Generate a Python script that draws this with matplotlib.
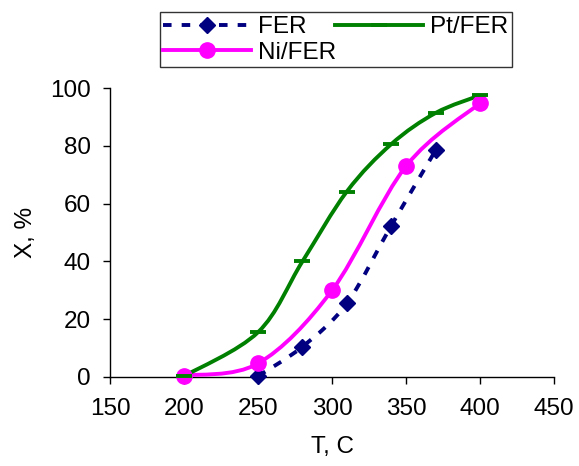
"""Conversion X vs temperature for FER, Ni/FER and Pt/FER catalysts."""

import matplotlib

matplotlib.use("Agg")
import matplotlib.pyplot as plt
from matplotlib.lines import Line2D
from matplotlib.patches import PathPatch
from matplotlib.path import Path
import numpy as np

plt.rcParams["font.family"] = ["Liberation Sans", "DejaVu Sans"]

fer_t = [250, 280, 310, 340, 370]
fer_x = [0.3, 10.5, 25.5, 52.4, 78.5]

pt_t = [200, 250, 280, 310, 340, 370, 400]
pt_x = [0.3, 15.5, 40.0, 64.2, 80.6, 91.4, 97.5]

ni_t = [200, 250, 300, 350, 400]
ni_x = [0.5, 4.7, 30.0, 73.0, 94.8]

x_ticks = [150, 200, 250, 300, 350, 400, 450]
y_ticks = [0, 20, 40, 60, 80, 100]

FS = 17.5


def smooth_path(xs, ys):
    # Excel-like smoothed line: cubic Bezier through each point
    p = np.column_stack([xs, ys]).astype(float)
    n = len(p)
    verts = [p[0]]
    codes = [Path.MOVETO]
    for i in range(n - 1):
        prev = p[i - 1] if i > 0 else p[i]
        nxt = p[i + 2] if i + 2 < n else p[i + 1]
        c1 = p[i] + (p[i + 1] - prev) / 6.0
        c2 = p[i + 1] - (nxt - p[i]) / 6.0
        verts += [c1, c2, p[i + 1]]
        codes += [Path.CURVE4] * 3
    return Path(verts, codes)


fig = plt.figure(figsize=(5.79, 4.66), dpi=100)
ax = fig.add_axes([0.190, 0.191, 0.767, 0.620])

series = [
    (fer_t, fer_x, "#000080", (0, (2.2, 2.6)), "D", 8, "FER"),
    (ni_t, ni_x, "#ff00ff", "-", "o", 11, "Ni/FER"),
    (pt_t, pt_x, "#008000", "-", "_", 11, "Pt/FER"),
]

handles = []
for t, x, color, ls, mk, ms, label in series:
    ax.add_patch(PathPatch(smooth_path(t, x), fill=False, edgecolor=color,
                           linewidth=2.8, linestyle=ls, zorder=3,
                           capstyle="butt"))
    ax.plot(t, x, linestyle="none", marker=mk, markersize=ms, color=color,
            markeredgewidth=2.8 if mk == "_" else 1, zorder=4, clip_on=False)
    handles.append(Line2D([], [], color=color, linewidth=2.8, linestyle=ls,
                          marker=mk, markersize=ms,
                          markeredgewidth=2.8 if mk == "_" else 1))

ax.set_xlim(150, 450)
ax.set_ylim(0, 100)
ax.set_xticks(x_ticks)
ax.set_yticks(y_ticks)
ax.tick_params(labelsize=FS, direction="out", length=5, width=1,
               colors="black")
ax.tick_params(axis="y", pad=9)
ax.tick_params(axis="x", pad=10)
for side in ("top", "right"):
    ax.spines[side].set_visible(False)
for side in ("left", "bottom"):
    ax.spines[side].set_linewidth(1)
ax.set_xlabel("T, C", fontsize=FS, labelpad=12)
ax.set_ylabel("X, %", fontsize=FS, labelpad=9)

fig.legend(handles, [s[6] for s in series], ncol=2, fontsize=FS,
           loc="center", mode="expand",
           bbox_to_anchor=(0.276, 0.850, 0.608, 0.129),
           frameon=True, fancybox=False, edgecolor="black",
           handlelength=3.6, handletextpad=0.3, borderpad=0.15,
           labelspacing=0.15, columnspacing=1.0, borderaxespad=0)
fig.legends[0].get_frame().set_linewidth(1)

fig.savefig("out.png", dpi=100)
